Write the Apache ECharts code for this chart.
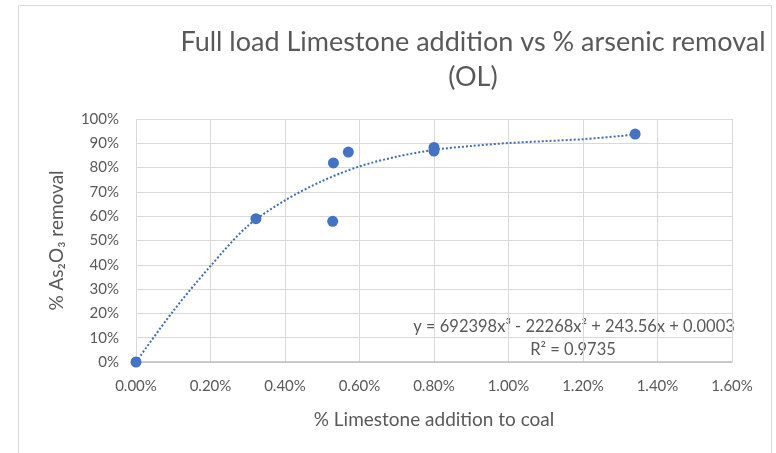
<!DOCTYPE html>
<html>
<head>
<meta charset="utf-8">
<script src="https://cdn.jsdelivr.net/npm/echarts@6/dist/echarts.min.js"></script>
<style>
  html, body { margin: 0; padding: 0; background: #fff; }
  #chart { width: 776px; height: 453px; }
</style>
</head>
<body>
<div id="chart"></div>
<script>
// measured points: % limestone added vs % As2O3 removed
var limestonePct = [0, 0.322, 0.530, 0.570, 0.528, 0.80, 0.80, 1.34];
var removalPct = [0, 59.0, 81.9, 86.4, 57.9, 88.3, 86.8, 93.8];

// poly trendline
var trendX = [0, 0.1, 0.2, 0.3, 0.4, 0.5, 0.6, 0.7, 0.8, 0.9, 1.0, 1.1, 1.2, 1.3, 1.34];
var trendY = [0, 21, 39.5, 56, 66.5, 74.5, 80.5, 84.5, 87.3, 88.9, 90.1, 90.9, 91.7, 93.0, 93.7];

var equationText = 'y = 692398x³ - 22268x² + 243.56x + 0.0003';
var rSquaredText = 'R² = 0.9735';

var font = 'Lato';
var textGray = '#595959';
var blue = '#4472c4';

var chart = echarts.init(document.getElementById('chart'));

var pts = limestonePct.map(function (x, i) { return [x, removalPct[i]]; });
var trend = trendX.map(function (x, i) { return [x, trendY[i]]; });

var option = {
    backgroundColor: '#fff',
    animation: false,
    title: {
        text: 'Full load Limestone addition vs % arsenic removal\n(OL)',
        left: 468,
        top: 20,
        textAlign: 'center',
        textStyle: {
            fontFamily: font,
            fontSize: 27,
            fontWeight: 'normal',
            color: textGray,
            lineHeight: 35
        }
    },
    grid: { left: 136, right: 44, top: 119, bottom: 91 },
    xAxis: {
        type: 'value',
        min: 0,
        max: 1.6,
        interval: 0.2,
        name: '% Limestone addition to coal',
        nameLocation: 'middle',
        nameGap: 48,
        nameTextStyle: { fontFamily: font, fontSize: 19, color: textGray },
        axisLine: { show: true, lineStyle: { color: '#bfbfbf', width: 1.5 } },
        axisTick: { show: false },
        axisLabel: {
            margin: 17,
            fontFamily: font,
            fontSize: 15,
            color: textGray,
            formatter: function (v) { return v.toFixed(2) + '%'; }
        },
        splitLine: { show: true, lineStyle: { color: '#d9d9d9', width: 1 } }
    },
    yAxis: {
        type: 'value',
        min: 0,
        max: 100,
        interval: 10,
        name: '% As₂O₃ removal',
        nameLocation: 'middle',
        nameGap: 70,
        nameRotate: 90,
        nameTextStyle: { fontFamily: font, fontSize: 19, color: textGray },
        axisLine: { show: false },
        axisTick: { show: false },
        axisLabel: {
            margin: 17,
            fontFamily: font,
            fontSize: 15,
            color: textGray,
            formatter: '{value}%'
        },
        splitLine: { show: true, lineStyle: { color: '#d9d9d9', width: 1 } }
    },
    graphic: [
        {
            type: 'rect',
            shape: { x: 18.5, y: 5.5, width: 753, height: 460 },
            style: { fill: 'none', stroke: '#d9d9d9', lineWidth: 1 },
            silent: true
        },
        {
            type: 'text',
            x: 574,
            y: 327,
            style: { text: equationText, fontFamily: font, fontSize: 16.5, fill: textGray, align: 'center', verticalAlign: 'middle' }
        },
        {
            type: 'text',
            x: 573,
            y: 350,
            style: { text: rSquaredText, fontFamily: font, fontSize: 16.5, fill: textGray, align: 'center', verticalAlign: 'middle' }
        }
    ],
    series: [
        {
            name: 'Trend',
            type: 'line',
            data: trend,
            smooth: 0.3,
            showSymbol: false,
            lineStyle: { color: '#3f6db8', width: 2, type: 'dotted' },
            z: 2
        },
        {
            name: 'As2O3 removal',
            type: 'scatter',
            data: pts,
            symbolSize: 11,
            itemStyle: { color: blue, opacity: 1 },
            z: 3
        }
    ]
};

option && chart.setOption(option);
</script>
</body>
</html>
